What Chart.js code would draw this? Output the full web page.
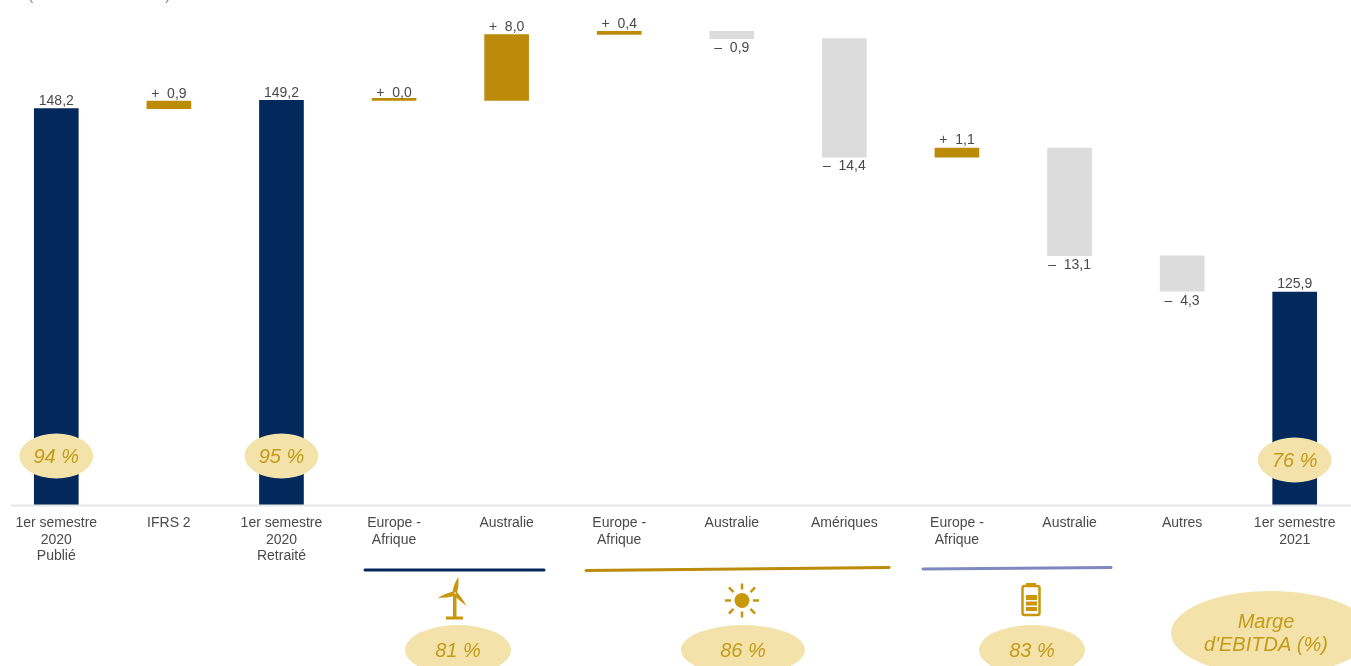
<!DOCTYPE html>
<html lang="fr">
<head>
<meta charset="utf-8">
<title>EBITDA</title>
<script src="https://cdn.jsdelivr.net/npm/chart.js@4"></script>
<style>
    html, body { margin: 0; padding: 0; background: #fff; overflow: hidden; }
    canvas { display: block; }
</style>
</head>
<body>
<canvas id="pontEbitda" width="1351" height="666"></canvas>
<script>
// Categories and bar values (M€), each bar floats between low and high
const categories = [
    ['1er semestre', '2020', 'Publié'],
    'IFRS 2',
    ['1er semestre', '2020', 'Retraité'],
    ['Europe -', 'Afrique'],
    'Australie',
    ['Europe -', 'Afrique'],
    'Australie',
    'Amériques',
    ['Europe -', 'Afrique'],
    'Australie',
    'Autres',
    ['1er semestre', '2021']
];
const barLows = [100, 148.2, 100, 149.2, 149.2, 157.2, 156.7, 142.3, 142.3, 130.3, 126.0, 100];
const barHighs = [148.2, 149.1, 149.2, 149.2, 157.2, 157.6, 157.6, 156.7, 143.4, 143.4, 130.3, 125.9];
const valueLabels = ['148,2', '+  0,9', '149,2', '+  0,0', '+  8,0', '+  0,4', '–  0,9', '–  14,4', '+  1,1', '–  13,1', '–  4,3', '125,9'];
const barKinds = ['total', 'up', 'total', 'up', 'up', 'up', 'down', 'down', 'up', 'down', 'down', 'total'];

// Margin bubbles drawn over the bars, and the ones under each segment
const barMargins = { 0: '94 %', 2: '95 %', 11: '76 %' };
const segmentMargins = ['81 %', '86 %', '83 %'];

// Theme colours
const warna = {
    total: '#03285c',
    up: '#bc8b0a',
    down: '#dcdcdc',
    bubble: '#f3e3ab',
    bubbleText: '#c49a17',
    icon: '#c9960c',
    text: '#4a4a4a'
};

const fontFamily = '"Liberation Sans", Arial, sans-serif';

function ellipse(ctx, x, y, rx, ry, text) {
    ctx.fillStyle = warna.bubble;
    ctx.beginPath();
    ctx.ellipse(x, y, rx, ry, 0, 0, Math.PI * 2);
    ctx.fill();
    if (text) {
        ctx.fillStyle = warna.bubbleText;
        ctx.font = `italic 20px ${fontFamily}`;
        ctx.fillText(text, x, y + 1);
    }
}

function drawTurbine(ctx) {
    ctx.fillStyle = warna.icon;
    ctx.beginPath();
    ctx.moveTo(452.5, 592);
    ctx.quadraticCurveTo(454, 583, 458.5, 577);
    ctx.quadraticCurveTo(459, 586, 457, 593);
    ctx.closePath();
    ctx.fill();
    ctx.beginPath();
    ctx.moveTo(454, 591.5);
    ctx.quadraticCurveTo(445, 593, 438, 598);
    ctx.quadraticCurveTo(447, 598, 455, 596);
    ctx.closePath();
    ctx.fill();
    ctx.beginPath();
    ctx.moveTo(457, 592);
    ctx.quadraticCurveTo(463, 599, 466.5, 606);
    ctx.quadraticCurveTo(460, 601, 454, 595.5);
    ctx.closePath();
    ctx.fill();
    ctx.fillRect(453, 594, 3.5, 24);
    ctx.fillRect(446, 616.5, 17, 3);
}

function drawSun(ctx) {
    const cx = 742, cy = 600.5;
    ctx.fillStyle = warna.icon;
    ctx.strokeStyle = warna.icon;
    ctx.lineWidth = 2.5;
    ctx.beginPath();
    ctx.arc(cx, cy, 7.5, 0, Math.PI * 2);
    ctx.fill();
    for (let i = 0; i < 8; i++) {
        const a = i * Math.PI / 4;
        const r0 = i % 2 ? 12 : 11;
        const r1 = i % 2 ? 18.5 : 17;
        ctx.beginPath();
        ctx.moveTo(cx + Math.cos(a) * r0, cy + Math.sin(a) * r0);
        ctx.lineTo(cx + Math.cos(a) * r1, cy + Math.sin(a) * r1);
        ctx.stroke();
    }
}

function drawBattery(ctx) {
    ctx.fillStyle = warna.icon;
    ctx.strokeStyle = warna.icon;
    ctx.lineWidth = 2.5;
    ctx.fillRect(1026, 583, 10, 3);
    ctx.beginPath();
    ctx.roundRect(1022.5, 586, 17, 29, 2);
    ctx.stroke();
    ctx.fillRect(1026, 595, 11, 5);
    ctx.fillRect(1026, 601.5, 11, 4);
    ctx.fillRect(1026, 607, 11, 4);
}

// Value labels, baseline rule, segment rules and bubbles
const annotations = {
    id: 'annotations',
    afterDatasetsDraw(chart) {
        const { ctx, scales } = chart;
        const x = scales.x;
        const y = scales.y;

        ctx.save();
        ctx.textAlign = 'center';
        ctx.textBaseline = 'middle';

        // baseline
        ctx.strokeStyle = '#e6e6e6';
        ctx.lineWidth = 2;
        ctx.beginPath();
        ctx.moveTo(11, y.bottom + 0.5);
        ctx.lineTo(chart.width, y.bottom + 0.5);
        ctx.stroke();

        // values above rising bars, below falling ones
        ctx.font = `14px ${fontFamily}`;
        ctx.fillStyle = warna.text;
        valueLabels.forEach((label, i) => {
            const below = barKinds[i] === 'down';
            const py = below ? y.getPixelForValue(barLows[i]) + 9.5 : y.getPixelForValue(barHighs[i]) - 7.5;
            ctx.fillText(label, x.getPixelForValue(i), py);
        });

        // segment rules
        ctx.lineWidth = 3;
        ctx.lineCap = 'round';
        [
            [warna.total, 365, 570, 544, 570],
            [warna.up, 586, 570.5, 889, 567.5],
            ['#8088c0', 923, 569, 1111, 567.5]
        ].forEach(([color, x0, y0, x1, y1]) => {
            ctx.strokeStyle = color;
            ctx.beginPath();
            ctx.moveTo(x0, y0);
            ctx.lineTo(x1, y1);
            ctx.stroke();
        });
        ctx.lineCap = 'butt';

        // margin bubbles
        Object.entries(barMargins).forEach(([i, text]) => {
            const cy = Number(i) === 11 ? 460 : 456;
            ellipse(ctx, x.getPixelForValue(Number(i)), cy, 37, 22.5, text);
        });
        ellipse(ctx, 458, 650, 53, 25, segmentMargins[0]);
        ellipse(ctx, 743, 650, 62, 25, segmentMargins[1]);
        ellipse(ctx, 1032, 650, 53, 25, segmentMargins[2]);

        ellipse(ctx, 1271, 633, 100, 42);
        ctx.fillStyle = warna.bubbleText;
        ctx.font = `italic 20px ${fontFamily}`;
        ctx.fillText('Marge', 1266, 622);
        ctx.fillText("d'EBITDA (%)", 1266, 645);

        drawTurbine(ctx);
        drawSun(ctx);
        drawBattery(ctx);

        // unit line sitting at the very top edge
        ctx.fillStyle = '#8c8c8c';
        ctx.font = `16px ${fontFamily}`;
        ctx.textAlign = 'left';
        ctx.textBaseline = 'alphabetic';
        ctx.fillText("(en millions d'euros)", 28, 0);

        ctx.restore();
    }
};

const ctx = document.getElementById('pontEbitda').getContext('2d');

new Chart(ctx, {
    type: 'bar',
    data: {
        labels: categories,
        datasets: [{
            label: 'EBITDA',
            data: barLows.map((low, i) => [low, barHighs[i]]),
            backgroundColor: barKinds.map(kind => warna[kind]),
            barThickness: 44,
            minBarLength: 2
        }]
    },
    options: {
        responsive: false,
        animation: false,
        layout: { padding: 0 },
        plugins: {
            legend: { display: false },
            tooltip: { enabled: false }
        },
        scales: {
            x: {
                grid: { display: false },
                border: { display: false },
                afterFit(scale) {
                    scale.height = 161;
                },
                ticks: {
                    autoSkip: false,
                    maxRotation: 0,
                    padding: 2,
                    color: warna.text,
                    font: { family: fontFamily, size: 14, lineHeight: 1.18 }
                }
            },
            y: {
                display: false,
                min: 100,
                max: 161.4
            }
        }
    },
    plugins: [annotations]
});
</script>
</body>
</html>
